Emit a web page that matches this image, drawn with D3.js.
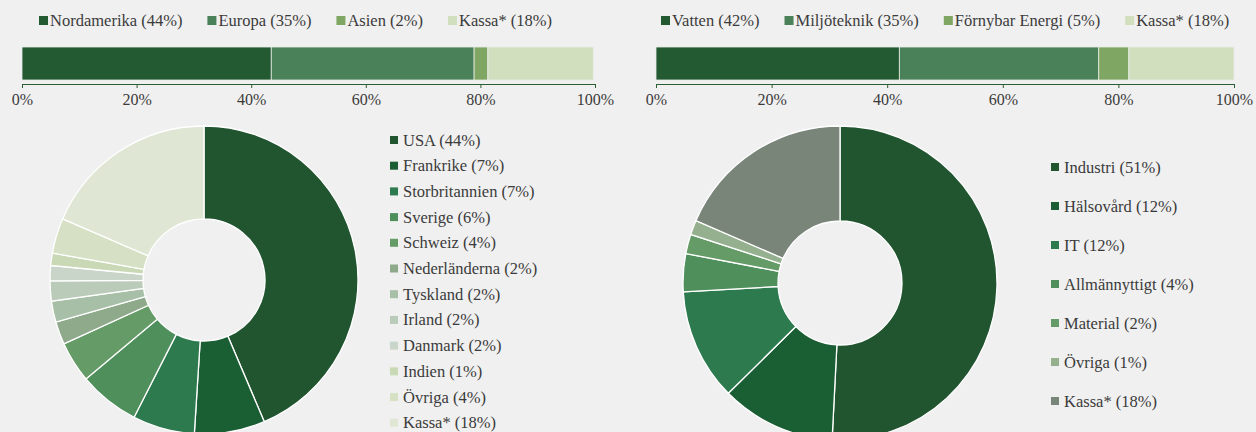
<!DOCTYPE html>
<html>
<head>
<meta charset="utf-8">
<script src="https://cdn.jsdelivr.net/npm/d3@7"></script>
<style>
  body { margin: 0; background: #f0f0f0; }
  svg text { font-family: "Liberation Serif", "Times New Roman", Tinos, Times, "DejaVu Serif", serif; fill: #3b3b3b; }
  .axis path, .axis line { stroke: #2c5e36; }
  .axis text { font-size: 16px; }
</style>
</head>
<body>
<div id="chart"></div>
<script>
// region split (stacked bar, left)
var regionLabels = ["Nordamerika", "Europa", "Asien", "Kassa*"];
var regionValues = [43.5, 35.4, 2.4, 18.4];
var regionPct = [44, 35, 2, 18];
var barColors = ["#235a32", "#4a8159", "#7fa662", "#d1dfbf"];

// theme split (stacked bar, right)
var themeLabels = ["Vatten", "Miljöteknik", "Förnybar Energi", "Kassa*"];
var themeValues = [42.1, 34.5, 5.2, 18.2];
var themePct = [42, 35, 5, 18];

// countries (donut, left)
var countryLabels = ["USA", "Frankrike", "Storbritannien", "Sverige", "Schweiz", "Nederländerna",
                     "Tyskland", "Irland", "Danmark", "Indien", "Övriga", "Kassa*"];
var countryValues = [43.6, 7.4, 6.5, 6.4, 4.3, 2.4, 2.2, 2.1, 1.6, 1.3, 3.7, 18.5];
var countryPct = [44, 7, 7, 6, 4, 2, 2, 2, 2, 1, 4, 18];
var countryColors = ["#215530", "#1a5e34", "#2d7a4e", "#4e8f5c", "#659b67", "#8faa8b",
                     "#a7bfa7", "#bacbb9", "#cad5c9", "#c9d9b6", "#d5e0c4", "#dfe7d4"];

// sectors (donut, right)
var sectorLabels = ["Industri", "Hälsovård", "IT", "Allmännyttigt", "Material", "Övriga", "Kassa*"];
var sectorValues = [50.8, 11.8, 11.5, 3.9, 2.0, 1.5, 18.5];
var sectorPct = [51, 12, 12, 4, 2, 1, 18];
var sectorColors = ["#215530", "#1a5e34", "#2d7a4e", "#4e8f5c", "#659b67", "#95b08f", "#7a857a"];

var axisTicks = [0, 20, 40, 60, 80, 100];

var w = 1256, h = 432;
var serif = '"Liberation Serif", "Times New Roman", Tinos, Times, "DejaVu Serif", serif';
var svg = d3.select("#chart").append("svg").attr("width", w).attr("height", h)
    .attr("font-family", serif);

function stackedBar(labels, values, pct, x0, x1, legendX) {
    var xScale = d3.scaleLinear().domain([0, 100]).range([x0, x1]);
    var cum = d3.cumsum(values);
    var g = svg.append("g");

    // legend in a row, flowing by text width
    var lx = legendX;
    labels.forEach(function(l, i) {
        g.append("rect").attr("x", lx).attr("y", 16).attr("width", 9).attr("height", 9)
            .attr("fill", barColors[i]);
        var t = g.append("text").attr("x", lx + 11).attr("y", 26)
            .attr("font-size", "16.5px").text(l + " (" + pct[i] + "%)");
        lx += 11 + t.node().getComputedTextLength() + 25;
    });

    g.selectAll(".seg").data(values).enter().append("rect")
        .attr("x", function(d, i) { return xScale(cum[i] - d); })
        .attr("y", 47)
        .attr("width", function(d) { return xScale(d) - xScale(0); })
        .attr("height", 33)
        .attr("fill", function(d, i) { return barColors[i]; })
        .attr("stroke", "#e8ece6").attr("stroke-width", 0.8);

    var xAxis = d3.axisBottom(xScale).tickValues(axisTicks)
        .tickFormat(function(d) { return d + "%"; })
        .tickSize(4).tickSizeOuter(4).tickPadding(6);
    svg.append("g").attr("class", "axis")
        .attr("transform", "translate(0,84)")
        .call(xAxis)
        .attr("font-family", serif)
        .selectAll("text").style("fill", "#3b3b3b");
}

function donut(values, colors, cx, cy, R, r) {
    var pie = d3.pie().sort(null).value(function(d) { return d; });
    var arc = d3.arc().innerRadius(r).outerRadius(R);
    svg.append("g").attr("transform", "translate(" + cx + "," + cy + ")")
        .selectAll("path").data(pie(values)).enter().append("path")
        .attr("d", arc)
        .attr("fill", function(d, i) { return colors[i]; })
        .attr("stroke", "#ffffff").attr("stroke-width", 1.3);
}

function pieLegend(labels, pct, colors, x, y0, step) {
    var g = svg.append("g");
    labels.forEach(function(l, i) {
        var y = y0 + i * step;
        g.append("rect").attr("x", x).attr("y", y - 4).attr("width", 8).attr("height", 8)
            .attr("fill", colors[i]);
        g.append("text").attr("x", x + 13).attr("y", y + 5.5)
            .attr("font-size", "16.5px").text(l + " (" + pct[i] + "%)");
    });
}

stackedBar(regionLabels, regionValues, regionPct, 22, 595, 39);
stackedBar(themeLabels, themeValues, themePct, 656, 1234, 661);

donut(countryValues, countryColors, 204, 280, 154, 61);
donut(sectorValues, sectorColors, 840, 283, 157, 62);

pieLegend(countryLabels, countryPct, countryColors, 390, 140, 25.7);
pieLegend(sectorLabels, sectorPct, sectorColors, 1051, 167, 39);
</script>
</body>
</html>
